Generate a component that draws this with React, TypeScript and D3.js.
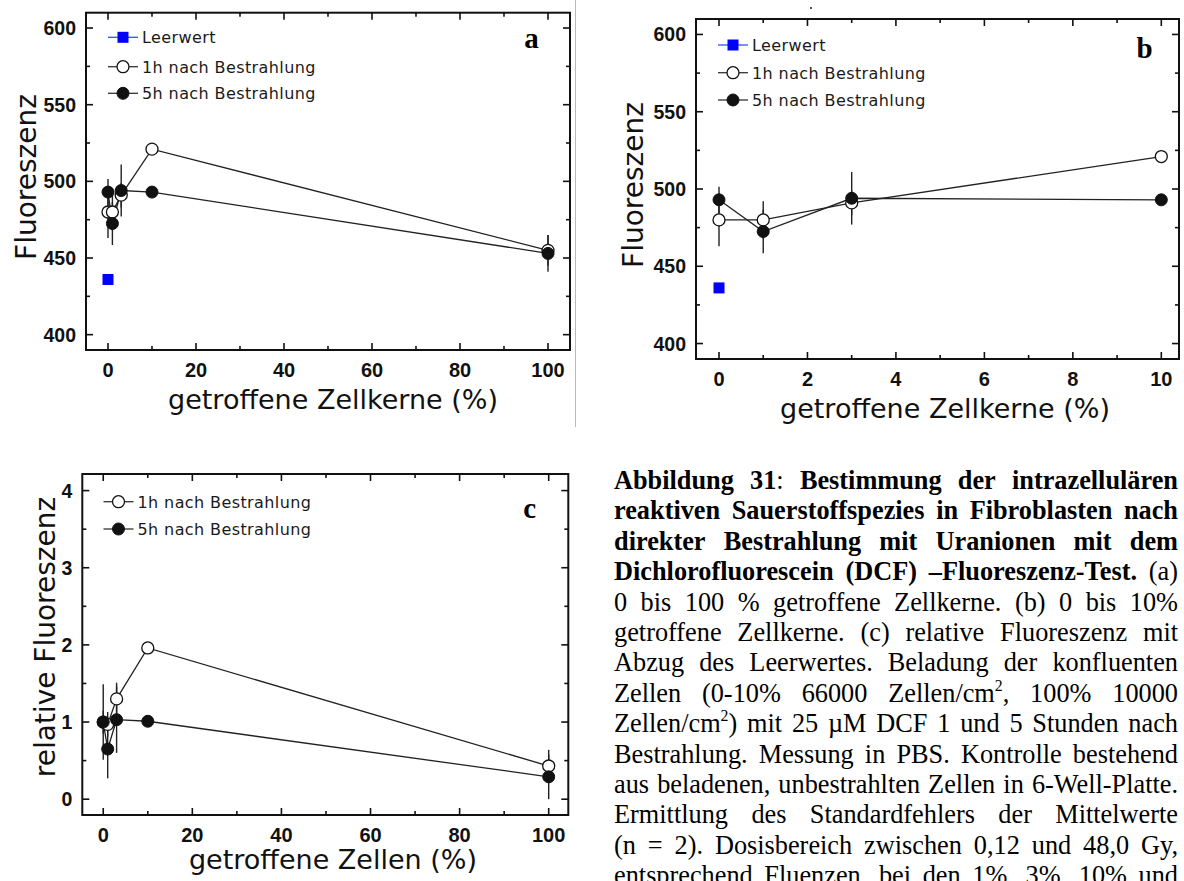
import React from 'react';
import * as d3 from 'd3';

// ---------- data ----------
const pctA = [0, 1, 3, 10, 100];
const pctB = [0, 1, 3, 10];
const leerX = [0];
const leerY = [436];
const fl1h = [480, 480, 491, 521, 455];
const fl1hErr = [17, 12, 8, 3, 10];
const fl5h = [493, 472.5, 494, 493, 453];
const fl5hErr = [8.5, 14, 17, 3, 12];
const rel1h = [1.0, 0.97, 1.3, 1.96, 0.43];
const rel1hErr = [0.49, 0.16, 0.21, 0.03, 0.21];
const rel5h = [1.0, 0.65, 1.03, 1.01, 0.29];
const rel5hErr = [0.15, 0.38, 0.43, 0.03, 0.29];

const ticksA = [0, 20, 40, 60, 80, 100];
const minorA = [10, 30, 50, 70, 90];
const ticksB = [0, 2, 4, 6, 8, 10];
const minorB = [1, 3, 5, 7, 9];
const ticksFl = [400, 450, 500, 550, 600];
const minorFl = [425, 475, 525, 575];
const ticksRel = [0, 1, 2, 3, 4];
const minorRel = [0.5, 1.5, 2.5, 3.5];

const labLeer = 'Leerwert';
const lab1h = '1h nach Bestrahlung';
const lab5h = '5h nach Bestrahlung';

const captionLines = [
  '**Abbildung 31**: **Bestimmung der intrazellulären**',
  '**reaktiven Sauerstoffspezies in Fibroblasten nach**',
  '**direkter Bestrahlung mit Uranionen mit dem**',
  '**Dichlorofluorescein (DCF) –Fluoreszenz-Test.** (a)',
  '0 bis 100 % getroffene Zellkerne. (b) 0 bis 10%',
  'getroffene Zellkerne. (c) relative Fluoreszenz mit',
  'Abzug des Leerwertes. Beladung der konfluenten',
  'Zellen (0-10% 66000 Zellen/cm^2, 100% 10000',
  'Zellen/cm^2) mit 25 µM DCF 1 und 5 Stunden nach',
  'Bestrahlung. Messung in PBS. Kontrolle bestehend',
  'aus beladenen, unbestrahlten Zellen in 6-Well-Platte.',
  'Ermittlung des Standardfehlers der Mittelwerte',
  '(n = 2). Dosisbereich zwischen 0,12 und 48,0 Gy,',
  'entsprechend Fluenzen, bei den 1%, 3%, 10% und',
];

// ---------- helpers ----------
const INK = '#111';
const SANS = '"DejaVu Sans", sans-serif';
const TICKFONT = '"Liberation Sans", Arial, sans-serif';
const SERIF = '"Liberation Serif", "Times New Roman", serif';

type Series = { x: number[]; y: number[]; e: number[]; filled: boolean };
type Legend = { label: string; kind: 'blank' | 'open' | 'filled' };

function Marker({ kind, cx, cy }: { kind: string; cx: number; cy: number }) {
  if (kind === 'blank') return <rect x={cx - 5.5} y={cy - 5.5} width={11} height={11} fill="#0000ff" />;
  if (kind === 'open') return <circle cx={cx} cy={cy} r={6} fill="#fff" stroke={INK} strokeWidth={1.3} />;
  return <circle cx={cx} cy={cy} r={6} fill={INK} stroke={INK} strokeWidth={1} />;
}

function Panel(p: {
  box: [number, number, number, number];
  xDom: [number, number];
  yDom: [number, number];
  xTicks: number[];
  xMinor: number[];
  yTicks: number[];
  yMinor: number[];
  series: Series[];
  blank?: { x: number[]; y: number[] };
  legend: Legend[];
  legendX: number;
  legendRows: number[];
  letter: string;
  letterPos: [number, number];
  yTitle: string;
  yTitlePos: [number, number];
  xTitle: string;
  xTitlePos: [number, number];
}) {
  const [x0, y0, x1, y1] = p.box;
  const sx = d3.scaleLinear().domain(p.xDom).range([x0, x1]);
  const sy = d3.scaleLinear().domain(p.yDom).range([y1, y0]);
  const line = d3
    .line<[number, number]>()
    .x((d) => sx(d[0]))
    .y((d) => sy(d[1]));
  const MAJ = 7;
  const MIN = 4;
  return (
    <g>
      {p.series.map((s, i) => (
        <path
          key={'l' + i}
          d={line(s.x.map((v, j) => [v, s.y[j]] as [number, number])) || ''}
          fill="none"
          stroke="#222"
          strokeWidth={1.3}
        />
      ))}
      {p.series.map((s, i) =>
        s.x.map((v, j) => (
          <line
            key={'e' + i + '_' + j}
            x1={sx(v)}
            x2={sx(v)}
            y1={sy(s.y[j] - s.e[j])}
            y2={sy(s.y[j] + s.e[j])}
            stroke="#222"
            strokeWidth={1.4}
          />
        ))
      )}
      {p.series.map((s, i) =>
        s.x.map((v, j) => (
          <Marker key={'m' + i + '_' + j} kind={s.filled ? 'filled' : 'open'} cx={sx(v)} cy={sy(s.y[j])} />
        ))
      )}
      {p.blank &&
        p.blank.x.map((v, j) => <Marker key={'b' + j} kind="blank" cx={sx(v)} cy={sy(p.blank!.y[j])} />)}
      <rect x={x0} y={y0} width={x1 - x0} height={y1 - y0} fill="none" stroke={INK} strokeWidth={2} />
      {p.xTicks.map((t) => (
        <g key={'xt' + t}>
          <line x1={sx(t)} x2={sx(t)} y1={y1} y2={y1 - MAJ} stroke={INK} strokeWidth={1.6} />
          <line x1={sx(t)} x2={sx(t)} y1={y0} y2={y0 + MAJ} stroke={INK} strokeWidth={1.6} />
          <text
            x={sx(t)}
            y={y1 + 27}
            textAnchor="middle"
            fontFamily={TICKFONT}
            fontWeight="bold"
            fontSize={20}
            fill={INK}
          >
            {t}
          </text>
        </g>
      ))}
      {p.xMinor.map((t) => (
        <g key={'xm' + t}>
          <line x1={sx(t)} x2={sx(t)} y1={y1} y2={y1 - MIN} stroke={INK} strokeWidth={1.6} />
          <line x1={sx(t)} x2={sx(t)} y1={y0} y2={y0 + MIN} stroke={INK} strokeWidth={1.6} />
        </g>
      ))}
      {p.yTicks.map((t) => (
        <g key={'yt' + t}>
          <line x1={x0} x2={x0 + MAJ} y1={sy(t)} y2={sy(t)} stroke={INK} strokeWidth={1.6} />
          <line x1={x1} x2={x1 - MAJ} y1={sy(t)} y2={sy(t)} stroke={INK} strokeWidth={1.6} />
          <text
            x={x0 - 10}
            y={sy(t) + 7}
            textAnchor="end"
            fontFamily={TICKFONT}
            fontWeight="bold"
            fontSize={19.5}
            fill={INK}
          >
            {t}
          </text>
        </g>
      ))}
      {p.yMinor.map((t) => (
        <g key={'ym' + t}>
          <line x1={x0} x2={x0 + MIN} y1={sy(t)} y2={sy(t)} stroke={INK} strokeWidth={1.6} />
          <line x1={x1} x2={x1 - MIN} y1={sy(t)} y2={sy(t)} stroke={INK} strokeWidth={1.6} />
        </g>
      ))}
      {p.legend.map((l, i) => (
        <g key={'lg' + i}>
          <line
            x1={p.legendX - 15}
            x2={p.legendX + 15}
            y1={p.legendRows[i]}
            y2={p.legendRows[i]}
            stroke={l.kind === 'blank' ? '#3050ff' : '#333'}
            strokeWidth={1.3}
          />
          <Marker kind={l.kind} cx={p.legendX} cy={p.legendRows[i]} />
          <text
            x={p.legendX + 19}
            y={p.legendRows[i] + 6}
            fontFamily={SANS}
            fontSize={16}
            letterSpacing={0.4}
            fill="#1a1a1a"
          >
            {l.label}
          </text>
        </g>
      ))}
      <text
        x={p.letterPos[0]}
        y={p.letterPos[1]}
        textAnchor="middle"
        fontFamily={SERIF}
        fontWeight="bold"
        fontSize={29}
        fill="#000"
      >
        {p.letter}
      </text>
      <text
        transform={`translate(${p.yTitlePos[0]},${p.yTitlePos[1]}) rotate(-90)`}
        textAnchor="middle"
        fontFamily={SANS}
        fontSize={28}
        fill={INK}
      >
        {p.yTitle}
      </text>
      <text
        x={p.xTitlePos[0]}
        y={p.xTitlePos[1]}
        textAnchor="middle"
        fontFamily={SANS}
        fontSize={27}
        fill={INK}
      >
        {p.xTitle}
      </text>
    </g>
  );
}

// ---------- caption (justified) ----------
type Run = { t: string; b: boolean; sup: boolean };
function parseLine(line: string): Run[][] {
  const words: Run[][] = [];
  let cur: Run[] = [];
  let bold = false;
  let i = 0;
  const push = (ch: string, sup: boolean) => {
    const last = cur[cur.length - 1];
    if (last && last.b === bold && last.sup === sup) last.t += ch;
    else cur.push({ t: ch, b: bold, sup });
  };
  while (i < line.length) {
    if (line.startsWith('**', i)) {
      bold = !bold;
      i += 2;
      continue;
    }
    const ch = line[i];
    if (ch === '^') {
      push(line[i + 1], true);
      i += 2;
      continue;
    }
    if (ch === ' ') {
      if (cur.length) {
        words.push(cur);
        cur = [];
      }
      i++;
      continue;
    }
    push(ch, false);
    i++;
  }
  if (cur.length) words.push(cur);
  return words;
}

let ctx: CanvasRenderingContext2D | null = null;
function measure(t: string, bold: boolean, size: number) {
  if (!ctx) ctx = document.createElement('canvas').getContext('2d');
  if (!ctx) return t.length * size * 0.5;
  ctx.font = `${bold ? 'bold ' : ''}${size}px "Liberation Serif"`;
  return ctx.measureText(t).width;
}

function Caption({ x0, x1, y0, dy, size }: { x0: number; x1: number; y0: number; dy: number; size: number }) {
  const W = x1 - x0;
  const supSize = size * 0.6;
  const out: React.ReactNode[] = [];
  captionLines.forEach((ln, li) => {
    const words = parseLine(ln);
    const widths = words.map((w) =>
      w.reduce((acc, r) => acc + measure(r.t, r.b, r.sup ? supSize : size), 0)
    );
    const total = widths.reduce((a, b) => a + b, 0);
    const gap = words.length > 1 ? (W - total) / (words.length - 1) : 0;
    let x = x0;
    const y = y0 + li * dy;
    words.forEach((w, wi) => {
      let rx = x;
      w.forEach((r, ri) => {
        const fs = r.sup ? supSize : size;
        out.push(
          <text
            key={`c${li}_${wi}_${ri}`}
            x={rx}
            y={r.sup ? y - size * 0.42 : y}
            fontFamily={SERIF}
            fontWeight={r.b ? 'bold' : 'normal'}
            fontSize={fs}
            fill="#000"
          >
            {r.t}
          </text>
        );
        rx += measure(r.t, r.b, fs);
      });
      x += widths[wi] + gap;
    });
  });
  return <g>{out}</g>;
}

export default function App() {
  const legend3: Legend[] = [
    { label: labLeer, kind: 'blank' },
    { label: lab1h, kind: 'open' },
    { label: lab5h, kind: 'filled' },
  ];
  const legend2: Legend[] = [
    { label: lab1h, kind: 'open' },
    { label: lab5h, kind: 'filled' },
  ];
  const n = pctB.length;
  return (
    <svg
      width={1184}
      height={881}
      style={{ position: 'absolute', left: 0, top: 0, background: '#fff', overflow: 'hidden' }}
    >
      <rect x={0} y={0} width={1184} height={881} fill="#fff" />
      <Panel
        box={[86, 12.7, 570, 350]}
        xDom={[-5, 105]}
        yDom={[390, 610]}
        xTicks={ticksA}
        xMinor={minorA}
        yTicks={ticksFl}
        yMinor={minorFl}
        series={[
          { x: pctA, y: fl1h, e: fl1hErr, filled: false },
          { x: pctA, y: fl5h, e: fl5hErr, filled: true },
        ]}
        blank={{ x: leerX, y: leerY }}
        legend={legend3}
        legendX={123}
        legendRows={[37.3, 66.7, 93.3]}
        letter="a"
        letterPos={[531.5, 48]}
        yTitle="Fluoreszenz"
        yTitlePos={[36, 177]}
        xTitle="getroffene Zellkerne (%)"
        xTitlePos={[333, 409]}
      />
      <line x1={575.5} x2={575.5} y1={0} y2={427} stroke="#f2a0a0" strokeWidth={1} />
      <Panel
        box={[696, 19, 1179, 359]}
        xDom={[-0.52, 10.4]}
        yDom={[390, 610]}
        xTicks={ticksB}
        xMinor={minorB}
        yTicks={ticksFl}
        yMinor={minorFl}
        series={[
          { x: pctB, y: fl1h.slice(0, n), e: fl1hErr.slice(0, n), filled: false },
          { x: pctB, y: fl5h.slice(0, n), e: fl5hErr.slice(0, n), filled: true },
        ]}
        blank={{ x: leerX, y: leerY }}
        legend={legend3}
        legendX={733}
        legendRows={[45, 72.7, 100]}
        letter="b"
        letterPos={[1144.5, 58]}
        yTitle="Fluoreszenz"
        yTitlePos={[643, 185]}
        xTitle="getroffene Zellkerne (%)"
        xTitlePos={[945, 418]}
      />
      <rect x={810} y={7} width={2} height={2} fill="#555" />
      <Panel
        box={[82.3, 474, 568.3, 815]}
        xDom={[-4.7, 104.4]}
        yDom={[-0.205, 4.215]}
        xTicks={ticksA}
        xMinor={minorA}
        yTicks={ticksRel}
        yMinor={minorRel}
        series={[
          { x: pctA, y: rel1h, e: rel1hErr, filled: false },
          { x: pctA, y: rel5h, e: rel5hErr, filled: true },
        ]}
        legend={legend2}
        legendX={118.5}
        legendRows={[501.7, 529]}
        letter="c"
        letterPos={[529.7, 518]}
        yTitle="relative Fluoreszenz"
        yTitlePos={[55, 637]}
        xTitle="getroffene Zellen (%)"
        xTitlePos={[333, 869]}
      />
      <Caption x0={614} x1={1178} y0={489} dy={30.4} size={26.3} />
    </svg>
  );
}
